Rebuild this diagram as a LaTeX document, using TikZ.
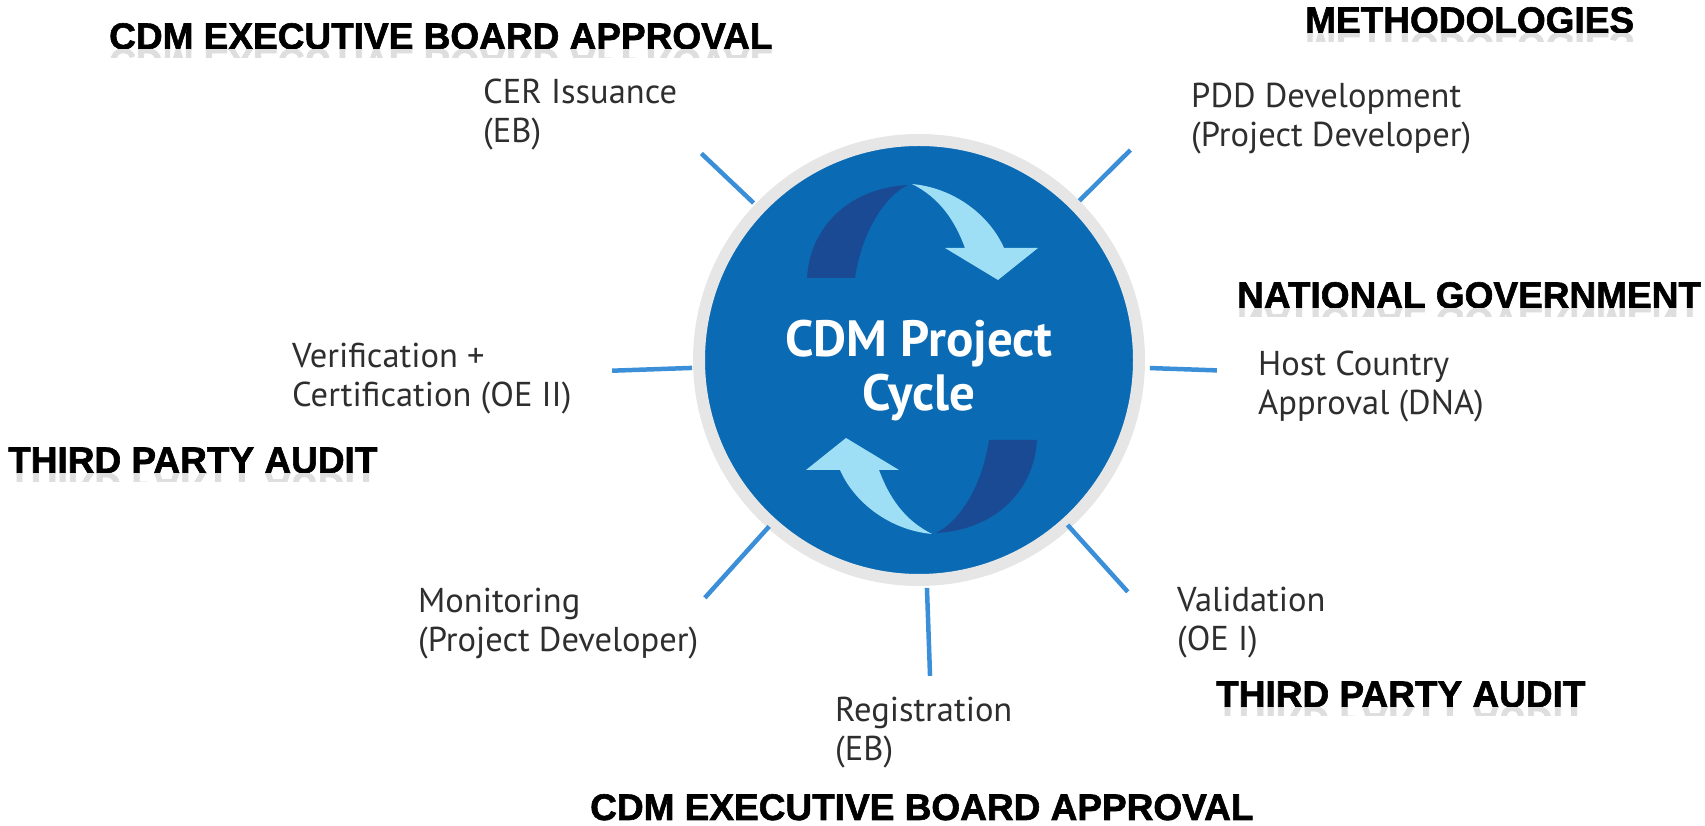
\documentclass[tikz,border=0pt]{standalone}
\usepackage{fontspec}
\setmainfont{PT Sans}
\newfontfamily\headfont[BoldFeatures={FakeBold=1.6}]{Liberation Sans}
\usepackage{tikz}
\usetikzlibrary{positioning,calc}

\definecolor{cyclebase}{HTML}{0A6AB4}
\definecolor{arrowdark}{HTML}{1A4A94}
\definecolor{arrowlight}{HTML}{9EDFF6}
\definecolor{ringgray}{HTML}{E6E6E6}
\definecolor{spokeblue}{HTML}{3A8FD8}
\definecolor{labelgray}{HTML}{2E2E2E}

\begin{document}
\begin{tikzpicture}[x=1pt, y=1pt,
	stage/.style={anchor=base west, align=left, inner sep=0pt, text=labelgray,
		font=\fontsize{34.5}{39}\selectfont},
	heading/.style={anchor=base west, inner sep=0pt,
		font=\headfont\bfseries\fontsize{37}{37}\selectfont},
	spoke/.style={spokeblue, line width=4.5pt}]
	
	\useasboundingbox (0,0) rectangle (1705,826);
	
	% Vòng tròn trung tâm
	\node[circle, fill=cyclebase, draw=ringgray, line width=12pt,
		minimum size=440pt, inner sep=0pt, outer sep=0pt] (hub) at (919,466) {};
	\coordinate (pivot) at (922,467);
	
	% Hai mũi tên cong (mũi dưới = mũi trên quay 180 độ)
	\foreach \turn in {0,180} {
		\begin{scope}[rotate around={\turn:(pivot)}]
			\fill[arrowdark] (807,548) .. controls (810,600) and (850,638) .. (908,641)
				.. controls (885,630) and (862,595) .. (855,548) -- cycle;
			\fill[arrowlight] (912,642) .. controls (955,638) and (990,610) .. (1004,578)
				-- (1038,578) -- (998,546) -- (945,578) -- (965,578)
				.. controls (955,605) and (940,628) .. (912,642) -- cycle;
		\end{scope}
	}
	
	\node[text=white, align=center, inner sep=0pt,
		font=\bfseries\fontsize{51}{54}\selectfont] (title) at (919,455) {CDM Project\\Cycle};
	
	% Các tia quanh vòng tròn: góc / bán kính trong / bán kính ngoài
	\foreach \ang/\rin/\rout in {136.5/228/300, 44.8/226/298, 182/227/307,
		-2/231/298, 228/224/320, 272/228/316, 312/222/312} {
		\draw[spoke] ($(hub.center)+(\ang:\rin)$) -- ($(hub.center)+(\ang:\rout)$);
	}
	
	% Các bước của chu trình (neo ở đường cơ sở của dòng thứ hai)
	\node[stage] (cer) at (483,683) {CER Issuance\\(EB)};
	\node[stage] (pdd) at (1191,679) {PDD Development\\(Project Developer)};
	\node[stage] (verif) at (292,419) {Verification +\\Certification (OE II)};
	\node[stage] (host) at (1258,411) {Host Country\\Approval (DNA)};
	\node[stage] (monit) at (418,174) {Monitoring\\(Project Developer)};
	\node[stage] (regis) at (835,65) {Registration\\(EB)};
	\node[stage] (valid) at (1177,175) {Validation\\(OE I)};
	
	% Tiêu đề đậm, có bóng phản chiếu nhạt bên dưới (trừ dòng sát mép dưới)
	\foreach \name/\hx/\hy/\txt in {
		boardtop/109/777/CDM EXECUTIVE BOARD APPROVAL,
		methods/1305/793/METHODOLOGIES,
		govt/1237/518/NATIONAL GOVERNMENT,
		auditleft/8/353/THIRD PARTY AUDIT,
		auditright/1216/119/THIRD PARTY AUDIT,
		boardbottom/590/6/CDM EXECUTIVE BOARD APPROVAL
	} {
		\node[heading] (\name) at (\hx,\hy) {\txt};
		\ifnum\hy>20
		\begin{scope}
			\clip ($(\name.base west)+(0,-1)$) rectangle ($(\name.base east)+(0,-9)$);
			\begin{scope}[shift={(\hx,\hy)}, yscale=-1]
				\node[heading, transform shape, text=black!13] at (0,0) {\txt};
			\end{scope}
		\end{scope}
		\fi
	}
	
\end{tikzpicture}
\end{document}
